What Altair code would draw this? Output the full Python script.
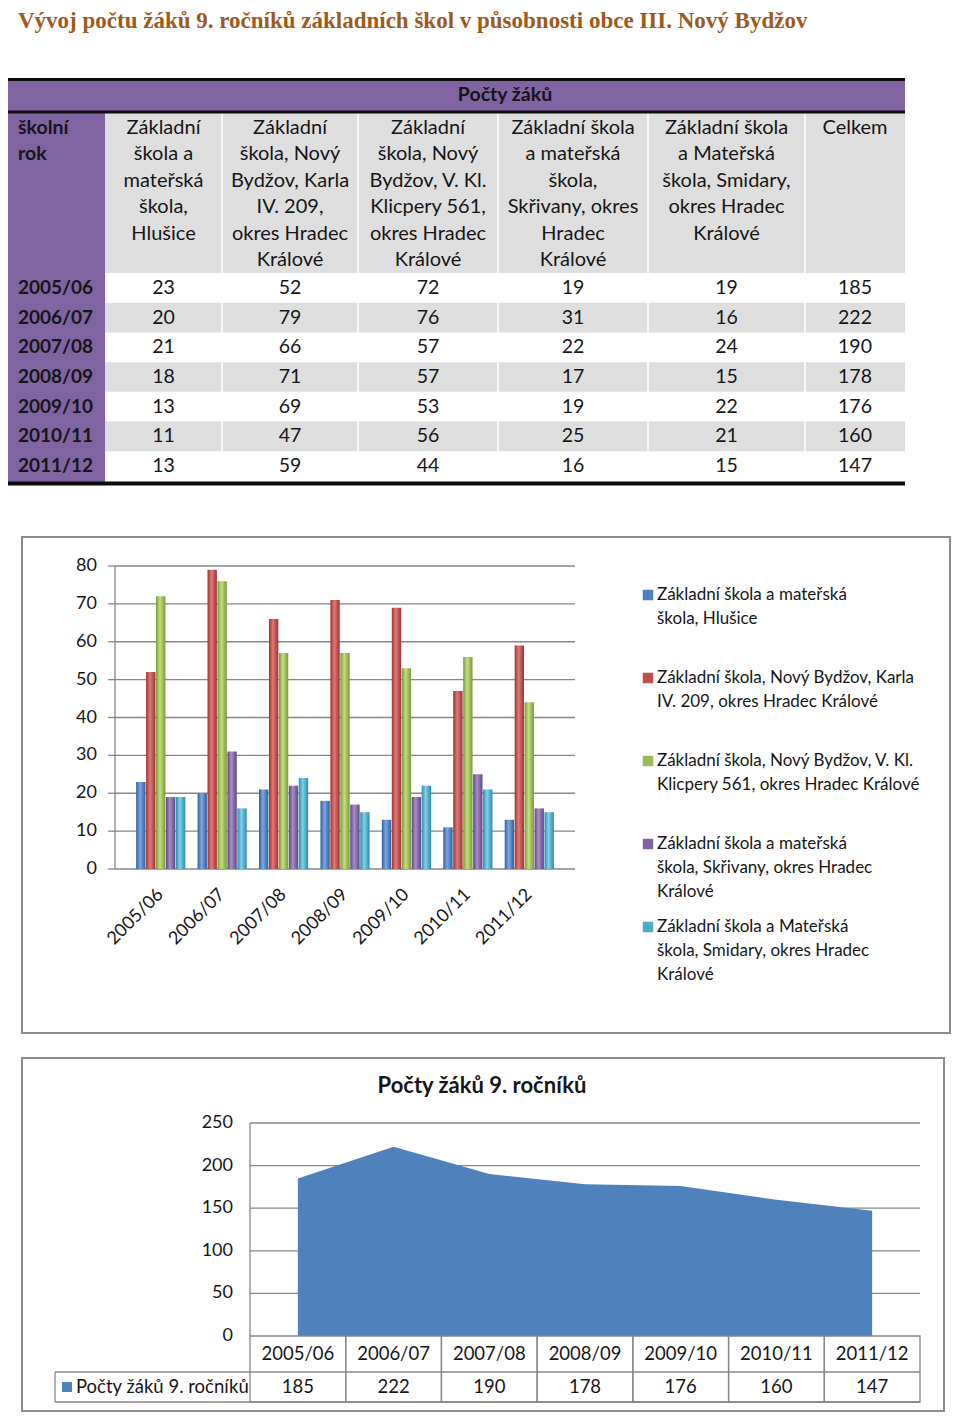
import numpy as np
import pandas as pd
import altair as alt

# ---------------- data ----------------
TITLE = "Vývoj počtu žáků  9. ročníků základních škol v působnosti obce III. Nový Bydžov"
TABLE_SUPER = "Počty žáků"
AREA_TITLE = "Počty žáků 9. ročníků"
AREA_SERIES = "Počty žáků 9. ročníků"

YEARS = ["2005/06", "2006/07", "2007/08", "2008/09", "2009/10", "2010/11", "2011/12"]
SCHOOL_KEYS = ["hlusice", "karla", "klicpery", "skrivany", "smidary"]
HLUSICE = [23, 20, 21, 18, 13, 11, 13]
KARLA = [52, 79, 66, 71, 69, 47, 59]
KLICPERY = [72, 76, 57, 57, 53, 56, 44]
SKRIVANY = [19, 31, 22, 17, 19, 25, 16]
SMIDARY = [19, 16, 24, 15, 22, 21, 15]
CELKEM = [185, 222, 190, 178, 176, 160, 147]

HEADER_LINES = [
    ["školní", "rok"],
    ["Základní", "škola a", "mateřská", "škola,", "Hlušice"],
    ["Základní", "škola, Nový", "Bydžov, Karla", "IV. 209,", "okres Hradec", "Králové"],
    ["Základní", "škola, Nový", "Bydžov, V. Kl.", "Klicpery 561,", "okres Hradec", "Králové"],
    ["Základní škola", "a mateřská", "škola,", "Skřivany, okres", "Hradec", "Králové"],
    ["Základní škola", "a Mateřská", "škola, Smidary,", "okres Hradec", "Králové"],
    ["Celkem"],
]

LEGEND_LINES = [
    ["Základní škola a mateřská", "škola, Hlušice"],
    ["Základní škola, Nový Bydžov, Karla", "IV. 209, okres Hradec Králové"],
    ["Základní škola, Nový Bydžov, V. Kl.", "Klicpery 561, okres Hradec Králové"],
    ["Základní škola a mateřská", "škola, Skřivany, okres Hradec", "Králové"],
    ["Základní škola a Mateřská", "škola, Smidary, okres Hradec", "Králové"],
]

BAR_TICKS = [0, 10, 20, 30, 40, 50, 60, 70, 80]
AREA_TICKS = [0, 50, 100, 150, 200, 250]

# ---------------- style / layout ----------------
FONT = "Lato"
INK = "#161616"
PURPLE = "#8064A2"
LIGHT = "#DEDEDE"
FRAME = "#8C8C8C"
GRID = "#878787"
COLORS = ["#4F81BD", "#C0504D", "#9BBB59", "#8064A2", "#4BACC6"]
DARKS = ["#30609F", "#9C3330", "#79983A", "#5F4583", "#2D8BA7"]
LIGHTS = ["#7BA7E0", "#E27976", "#C2E07F", "#A78ECA", "#7FD2E8"]
COL_WIDTHS = [97, 117, 136, 140, 150, 157, 100]   # table column widths (px)
W, H = 944, 1405

ONE = alt.Data(values=[{"k": 0}])


def box(x, x2, y, y2, **kw):
    return alt.Chart(ONE).mark_rect(**kw).encode(
        x=alt.value(x), x2=alt.value(x2), y=alt.value(y), y2=alt.value(y2))


def line(x, x2, y, y2, **kw):
    return alt.Chart(ONE).mark_rule(**kw).encode(
        x=alt.value(x), x2=alt.value(x2), y=alt.value(y), y2=alt.value(y2))


def label(text, x, y, **kw):
    return alt.Chart(ONE).mark_text(**kw).encode(
        x=alt.value(x), y=alt.value(y), text=alt.value(text))


layers = []

# ---------------- title ----------------
layers.append(label(TITLE, 10, 20, align="left", baseline="alphabetic",
                    font="Liberation Serif", fontSize=23, fontWeight="bold",
                    color="#9C5A1C"))

# ---------------- table ----------------
edges = np.cumsum([0] + COL_WIDTHS)
TW = float(edges[-1])
tx = alt.Scale(domain=[0, TW], range=[0, TW], nice=False, zero=False)
row_scale = alt.Scale(domain=YEARS, range=[265, 473], paddingInner=0, paddingOuter=0)

cols_df = pd.DataFrame({"col": range(len(COL_WIDTHS)), "left": edges[:-1],
                        "right": edges[1:], "center": (edges[:-1] + edges[1:]) / 2})

# backgrounds
layers.append(box(0, TW, 72, 103, color=PURPLE))
layers.append(box(0, COL_WIDTHS[0], 103, 475, color=PURPLE))
layers.append(box(COL_WIDTHS[0], TW, 105, 265, color=LIGHT))
stripe_df = pd.DataFrame({"year": YEARS, "i": range(len(YEARS))})
stripe_df = stripe_df[stripe_df["i"] % 2 == 1]
layers.append(alt.Chart(stripe_df).mark_rect(color=LIGHT).encode(
    x=alt.value(COL_WIDTHS[0]), x2=alt.value(TW),
    y=alt.Y("year:N", scale=row_scale, axis=None)))
# faint column separators
sep_df = cols_df[cols_df["col"] >= 2]
layers.append(alt.Chart(sep_df).mark_rule(color="white", strokeWidth=1.5).encode(
    x=alt.X("left:Q", scale=tx, axis=None), y=alt.value(105), y2=alt.value(473)))
# black rules
layers.append(line(0, TW, 71.5, 71.5, color="#0C0C0C", strokeWidth=3))
layers.append(line(0, TW, 104, 104, color="#0C0C0C", strokeWidth=3))
layers.append(line(0, TW, 475.5, 475.5, color="#0C0C0C", strokeWidth=4))

layers.append(label(TABLE_SUPER, 497, 87, align="center", baseline="middle",
                    fontSize=19.5, fontWeight="bold", color=INK))

hdr_rows = []
for c, lines in enumerate(HEADER_LINES):
    for k, t in enumerate(lines):
        hdr_rows.append({"col": c, "line": k, "text": t, "center": cols_df["center"][c]})
hdr_df = pd.DataFrame(hdr_rows)
hy = alt.Scale(domain=[0, 5], range=[120, 252], nice=False, zero=False)
layers.append(alt.Chart(hdr_df[hdr_df["col"] == 0]).mark_text(
    align="left", baseline="middle", fontSize=19.5, fontWeight="bold", color=INK).encode(
    x=alt.value(10), y=alt.Y("line:Q", scale=hy, axis=None), text="text:N"))
layers.append(alt.Chart(hdr_df[hdr_df["col"] > 0]).mark_text(
    align="center", baseline="middle", fontSize=20, color=INK).encode(
    x=alt.X("center:Q", scale=tx, axis=None), y=alt.Y("line:Q", scale=hy, axis=None),
    text="text:N"))

val_rows = []
for i, y in enumerate(YEARS):
    vals = [HLUSICE[i], KARLA[i], KLICPERY[i], SKRIVANY[i], SMIDARY[i], CELKEM[i]]
    for c, v in enumerate(vals, start=1):
        val_rows.append({"year": y, "col": c, "value": v, "center": cols_df["center"][c]})
val_df = pd.DataFrame(val_rows)
layers.append(alt.Chart(pd.DataFrame({"year": YEARS})).mark_text(
    align="left", baseline="middle", fontSize=19, fontWeight="bold", color=INK).encode(
    x=alt.value(10), y=alt.Y("year:N", scale=row_scale, axis=None), text="year:N"))
layers.append(alt.Chart(val_df).mark_text(
    align="center", baseline="middle", fontSize=19.5, color=INK).encode(
    x=alt.X("center:Q", scale=tx, axis=None), y=alt.Y("year:N", scale=row_scale, axis=None),
    text="value:Q"))

# ---------------- grouped bar chart ----------------
layers.append(box(14, 942, 529, 1025, fillOpacity=0, stroke=FRAME, strokeWidth=2))

series_vals = [HLUSICE, KARLA, KLICPERY, SKRIVANY, SMIDARY]
bar_rows = []
for s, key in enumerate(SCHOOL_KEYS):
    for i, y in enumerate(YEARS):
        bar_rows.append({"year": y, "series": key, "s": s, "value": series_vals[s][i]})
bar_df = pd.DataFrame(bar_rows)

xb = alt.Scale(domain=YEARS, range=[122, 552], paddingInner=0.2, paddingOuter=0.1)
xo = alt.Scale(domain=SCHOOL_KEYS, paddingInner=0.06)
yb = alt.Scale(domain=[0, 80], range=[861, 558], nice=False, zero=False)
tick_df = pd.DataFrame({"t": BAR_TICKS})

layers.append(alt.Chart(tick_df).mark_rule(color=GRID, strokeWidth=1.3).encode(
    x=alt.value(107), x2=alt.value(567), y=alt.Y("t:Q", scale=yb, axis=None)))
layers.append(alt.Chart(tick_df).mark_rule(color=GRID, strokeWidth=1.3).encode(
    x=alt.value(100), x2=alt.value(107), y=alt.Y("t:Q", scale=yb, axis=None)))
layers.append(line(107, 107, 558, 861, color=GRID, strokeWidth=1.3))
layers.append(alt.Chart(tick_df).mark_text(
    align="right", baseline="middle", fontSize=18, color=INK).encode(
    x=alt.value(89), y=alt.Y("t:Q", scale=yb, axis=None), text="t:Q"))

for s, key in enumerate(SCHOOL_KEYS):
    grad = alt.LinearGradient(
        gradient="linear", x1=0, x2=1, y1=0, y2=0,
        stops=[alt.GradientStop(color=DARKS[s], offset=0),
               alt.GradientStop(color=LIGHTS[s], offset=0.42),
               alt.GradientStop(color=DARKS[s], offset=1)])
    layers.append(alt.Chart(bar_df[bar_df["series"] == key]).mark_bar(color=grad).encode(
        x=alt.X("year:N", scale=xb, axis=None),
        xOffset=alt.XOffset("series:N", scale=xo),
        y=alt.Y("value:Q", scale=yb, axis=None)))

layers.append(alt.Chart(pd.DataFrame({"year": YEARS})).mark_text(
    angle=315, align="right", baseline="middle", fontSize=18, color=INK).encode(
    x=alt.X("year:N", scale=xb, axis=None), y=alt.value(884), text="year:N"))

# legend
leg_rows = []
for s, lines in enumerate(LEGEND_LINES):
    for k, t in enumerate(lines):
        leg_rows.append({"s": s, "series": SCHOOL_KEYS[s], "line": k, "text": t})
leg_df = pd.DataFrame(leg_rows)
ly = alt.Scale(domain=[0, 4], range=[587, 919], nice=False, zero=False)
layers.append(alt.Chart(leg_df[leg_df["line"] == 0]).mark_square(
    size=110, filled=True, opacity=1).encode(
    x=alt.value(640), y=alt.Y("s:Q", scale=ly, axis=None),
    color=alt.Color("series:N", scale=alt.Scale(domain=SCHOOL_KEYS, range=COLORS), legend=None)))
for k in range(3):
    layers.append(alt.Chart(leg_df[leg_df["line"] == k]).mark_text(
        align="left", baseline="middle", fontSize=17, color=INK, dy=24 * k).encode(
        x=alt.value(649), y=alt.Y("s:Q", scale=ly, axis=None), text="text:N"))

# ---------------- area chart with data table ----------------
layers.append(box(14, 936, 1050, 1403, fillOpacity=0, stroke=FRAME, strokeWidth=2))
layers.append(label(AREA_TITLE, 474, 1078, align="center", baseline="middle",
                    fontSize=22, fontWeight="bold", color=INK))

area_df = pd.DataFrame({"year": YEARS, "total": CELKEM})
xa_point = alt.Scale(type="point", domain=YEARS, range=[242, 912], padding=0.5)
xa_band = alt.Scale(type="band", domain=YEARS, range=[242, 912], paddingInner=0, paddingOuter=0)
ya = alt.Scale(domain=[0, 250], range=[1328, 1115], nice=False, zero=False)
atick_df = pd.DataFrame({"t": AREA_TICKS})

layers.append(alt.Chart(atick_df[atick_df["t"] > 0]).mark_rule(color=GRID, strokeWidth=1.3).encode(
    x=alt.value(242), x2=alt.value(912), y=alt.Y("t:Q", scale=ya, axis=None)))
layers.append(alt.Chart(area_df).mark_area(color="#4F81BD", opacity=1).encode(
    x=alt.X("year:N", scale=xa_point, axis=None),
    y=alt.Y("total:Q", scale=ya, axis=None)))
layers.append(line(242, 242, 1115, 1328, color=GRID, strokeWidth=1.3))
layers.append(alt.Chart(atick_df).mark_text(
    align="right", baseline="middle", fontSize=18, color=INK).encode(
    x=alt.value(225), y=alt.Y("t:Q", scale=ya, axis=None), text="t:Q"))

# data table under the area chart
layers.append(alt.Chart(area_df).mark_rect(fillOpacity=0, stroke=GRID, strokeWidth=1.3).encode(
    x=alt.X("year:N", scale=xa_band, axis=None), y=alt.value(1328), y2=alt.value(1394)))
layers.append(line(47, 912, 1364, 1364, color=GRID, strokeWidth=1.3))
layers.append(line(47, 912, 1394, 1394, color=GRID, strokeWidth=1.3))
layers.append(line(47, 47, 1364, 1394, color=GRID, strokeWidth=1.3))
layers.append(alt.Chart(area_df).mark_text(
    align="center", baseline="middle", fontSize=18.5, color=INK).encode(
    x=alt.X("year:N", scale=xa_band, axis=None), y=alt.value(1346), text="year:N"))
layers.append(alt.Chart(area_df).mark_text(
    align="center", baseline="middle", fontSize=18.5, color=INK).encode(
    x=alt.X("year:N", scale=xa_band, axis=None), y=alt.value(1379), text="total:Q"))
layers.append(box(54, 64, 1374, 1384, color="#4F81BD"))
layers.append(label(AREA_SERIES, 68, 1379, align="left", baseline="middle",
                    fontSize=18.5, color=INK))

chart = alt.layer(*layers).resolve_scale(
    x="independent", y="independent", color="independent", xOffset="independent"
).properties(
    width=W, height=H, padding=0, autosize=alt.AutoSizeParams(type="none")
).configure_view(stroke=None).configure_text(font=FONT)

chart.save("out.html", embed_options={"renderer": "svg", "actions": False})
